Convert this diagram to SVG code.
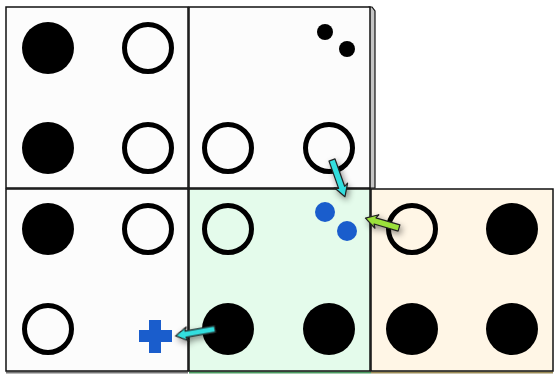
<svg xmlns="http://www.w3.org/2000/svg" width="555" height="374" viewBox="0 0 555 374">
<style>
.box{stroke:#111;stroke-width:1.5}
.fill{fill:#000}
.ring{fill:none;stroke:#000;stroke-width:5}
.blue{fill:#1a5dcc}
.arr{stroke:#222;stroke-width:1.2;stroke-linejoin:round}
</style>
<defs>
<filter id="sh" x="-50%" y="-50%" width="200%" height="200%">
<feDropShadow dx="2" dy="3" stdDeviation="3" flood-color="#000" flood-opacity="0.45"/>
</filter>
</defs>
<rect width="555" height="374" fill="#fff"/>
<g id="tile-top-left">
<rect class="box" x="6" y="7" width="182" height="181" fill="#fcfcfc"/>
<circle class="fill" cx="48" cy="48" r="26"/>
<circle class="ring" cx="148" cy="48" r="23.5"/>
<circle class="fill" cx="48" cy="148" r="26"/>
<circle class="ring" cx="148" cy="148" r="23.5"/>
</g>
<g id="tile-top-middle">
<polygon points="369,7 372,7 375,11 375,188 369,188" fill="#c4c4c4" stroke="#111" stroke-width="1.2"/>
<rect class="box" x="189" y="7" width="181" height="181" fill="#fcfcfc"/>
<circle class="fill" cx="325" cy="32" r="8"/>
<circle class="fill" cx="347" cy="49" r="8"/>
<circle class="ring" cx="228" cy="148" r="23.5"/>
<circle class="ring" cx="329" cy="148" r="23.5"/>
</g>
<g id="tile-bottom-left">
<line x1="6" y1="372.5" x2="188" y2="372.5" stroke="#777" stroke-width="2"/>
<rect class="box" x="6" y="189" width="182" height="182" fill="#fcfcfc"/>
<circle class="fill" cx="48" cy="229" r="26"/>
<circle class="ring" cx="148" cy="229" r="23.5"/>
<circle class="ring" cx="48" cy="329" r="23.5"/>
<path class="blue" d="M149,320 h12 v10 h11 v12 h-11 v11 h-12 v-11 h-10 v-12 h10 z"/>
</g>
<g id="tile-bottom-middle">
<line x1="189" y1="372.5" x2="371" y2="372.5" stroke="#4a9a60" stroke-width="2"/>
<rect class="box" x="189" y="189" width="181" height="182" fill="#e4fbeb"/>
<circle class="ring" cx="228" cy="229" r="23.5"/>
<circle class="blue" cx="325" cy="212" r="10"/>
<circle class="blue" cx="347" cy="231" r="10"/>
<circle class="fill" cx="228" cy="329" r="26"/>
<circle class="fill" cx="329" cy="329" r="26"/>
</g>
<g id="tile-bottom-right">
<line x1="371" y1="372.5" x2="553" y2="372.5" stroke="#9a8a55" stroke-width="2"/>
<rect class="box" x="371" y="189" width="182" height="182" fill="#fff6e6"/>
<circle class="ring" cx="412" cy="229" r="23.5"/>
<circle class="fill" cx="512" cy="229" r="26"/>
<circle class="fill" cx="412" cy="329" r="26"/>
<circle class="fill" cx="512" cy="329" r="26"/>
</g>
<g id="connectors" filter="url(#sh)">
<path class="arr" fill="#33dede" transform="translate(332,160) rotate(70.6)" d="M0,-3.2 L29,-3.2 L27,-7 L39,0 L27,7 L29,3.2 L0,3.2 Z"/>
<path class="arr" fill="#9be03a" transform="translate(399,228) rotate(196.4)" d="M0,-3.2 L25,-3.2 L23,-7 L35,0 L23,7 L25,3.2 L0,3.2 Z"/>
<path class="arr" fill="#33dede" transform="translate(215,329) rotate(170)" d="M0,-3.2 L30,-3.2 L28,-7 L40,0 L28,7 L30,3.2 L0,3.2 Z"/>
</g>
</svg>
